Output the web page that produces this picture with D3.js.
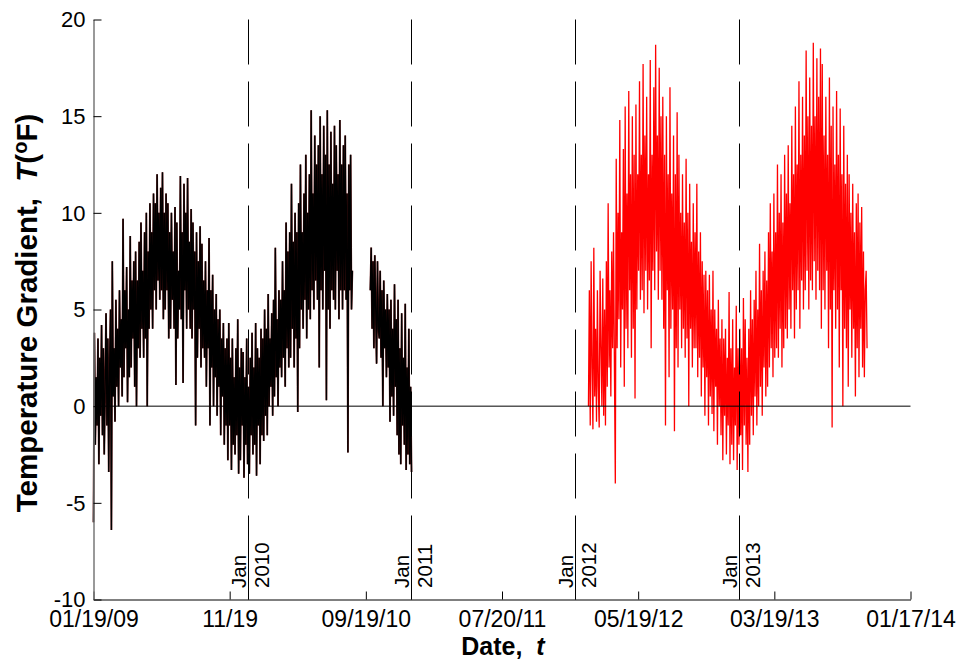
<!DOCTYPE html>
<html>
<head>
<meta charset="utf-8">
<script src="https://cdn.jsdelivr.net/npm/d3@7"></script>
<style>
  body { margin: 0; background: #fff; }
  svg text { font-family: "Liberation Sans", Arial, sans-serif; white-space: pre; }
</style>
</head>
<body>
<div id="vis"></div>
<script>
// sampling of the series (every 2 days from the start date)
var stepDays = 2;

// first logger, 2009 - summer 2010 (black)
var blackStart1 = "2009-01-19";
var blackValues1 = [
  -6, 3.8, -2, 1.5, -1, 3.5, -3, 2.5, -0.5, 4.2,
  -1.5, 3, -2.5, 1, 4.8, -1, 3.5, -3.4, 2, 5,
  -6.4, 7.5, 0.5, 3, -0.8, 5.5, 1, 4, 0, 6,
  2, 4.5, 0.5, 9.7, 1.5, 6, 3, 7.2, 0.2, 5,
  1.5, 8.8, 2, 6.5, 3.5, 7.5, 1, 8, 0, 6.5,
  3, 8.5, 2.5, 9.5, 4, 7, 2.5, 9, 3.5, 10,
  0, 8, 4, 10.5, 5, 9, 4, 11, 6, 10.5,
  5, 12, 6.5, 10, 5.5, 11.3, 6, 12.1, 4.5, 10,
  5, 11, 6, 10.5, 3.5, 9, 4, 10, 5.5, 8,
  4, 10.3, 1.1, 9.5, 3.5, 7, 5, 11.9, 4.5, 9,
  1.2, 11.5, 6, 10, 4, 11.8, 5, 8.5, 4, 10.2,
  3.5, 9.5, 5, 8, -1, 9, 2.5, 7.5, 4, 9.3,
  2, 8.4, 3, 6.5, 2.5, 7.5, 1, 6, 3, 8.7,
  -1, 6, 2, 6.8, 0, 5, 1.5, 5.8, -0.5, 4.5,
  1, 5, -1.5, 3.5, 0.5, 4.3, -2, 3, -1, 3.5,
  -2.8, 4.3, -1, 2.5, -3.3, 3.5, -2, 1.5, -2.5, 3,
  -1.5, 4.5, -3.5, 2, -2.8, 3, -1, 2.8, -3.7, 1.5,
  -2, 3.5, -3, 1, -3.5, 2.5, -1.5, 3.8, -2.5, 2,
  -2, 4.3, -3.6, 3, -1, 2.5, -3, 4, -1.5, 3.5,
  -1.8, 5, -0.5, 4, -1.5, 5.8, 0, 3.5, 1, 4.8,
  -0.5, 5.5, 0.5, 8.2, 1.5, 4.5, 0, 6, 2, 5.5,
  1.5, 7.5, 2.5, 6, 1, 9.5, 3, 8, 2, 9,
  2.5, 11.5, 4, 8.5, 2, 10, 3.5, 9, -0.3, 10.5,
  3, 12.5, 5, 9, 4, 11, 5.5, 13, 3.5, 10,
  5, 12, 4.5, 15.3, 6, 11, 5, 14, 6.5, 12.5,
  5.5, 13.5, 2, 15, 6, 12, 5, 14.5, 7, 13,
  0.3, 15.3, 5, 12.5, 4, 14.2, 6, 11.5, 5.5, 14.5,
  5, 13.5, 7, 12, 4.5, 14.8, 6, 12.5, 5, 13.5,
  6, 14, 5.5, 11, -2.4, 12.5, 6, 13, 5, 7
];

// first logger, fall 2010 (black)
var blackStart2 = "2010-09-29";
var blackValues2 = [
  6, 8.2, 4, 7.5, 3, 7.8, 5, 2.2, 7.5, 4,
  3.5, 7, 2.5, 6, 0, 6.5, 3, 5, 1.5, 5.8,
  2, 5, -0.8, 5.5, 0.5, 4, -0.5, 6.3, 1, 4.5,
  -1.5, 5.5, -2.5, 3, -3, 4.8, -1, 2.5, -2, 5.3,
  -3.3, 2, -2.5, 4, -3, 1, -3.4
];

// second logger, 2012 - 2013 (red)
var redStart = "2012-01-29";
var redValues = [
  0, 6, -1, 7.5, 2, -1.2, 8.2, 0.5, 4, -0.8,
  6, 1, -1.1, 7, 3, 0, 6.6, -0.5, 5, -1,
  7.5, 1, 10.5, 2, 6, 0.5, 8, 3, 9, 2,
  -4, 12.8, 3, 10, 4.5, 14.8, 2, 9, 5, 13.3,
  1, 15.5, 4, 11, 3, 16.3, 6, 12, 2.5, 15,
  4, 13, 0.4, 15.6, 5, 12, 7, 16.8, 5.5, 13,
  6, 17.7, 4.8, 14, 7, 16, 5, 12, 6.5, 17.9,
  3, 13, 7, 16.5, 6, 18.7, 8, 14, 5.5, 17.5,
  7, 15, 5.5, 16, 4, 13, -1, 15, 6, 12,
  1.5, 16.5, 4, 11, 5, 14, -1.3, 12, 3, 15.2,
  2, 13, 5, 10, 3, 12, 4, 9.5, 2.5, 12.8,
  3.5, 10, 0, 11.5, 4, 8.5, 2, 10.5, 3, 9,
  3, 11.5, 1.5, 8, 2.5, 9, 0.5, 7.5, 2, 6.8,
  -0.5, 7, 1.5, 6, -1, 6.8, 0.5, 5, -0.4, 7,
  -1.3, 5, 1, 4, -2, 5.5, 0, 3.5, -1.5, 4.5,
  -2.8, 3.5, -0.5, 4, -2.5, 2.5, -1, 5.9, -3, 3,
  -2, 4.5, -2.8, 2, -1, 5.2, -3.3, 3, -2, 4,
  -1.5, 3, -3.3, 5.6, -1, 4.5, -2, 2.5, -3.4, 4,
  -2, 6, -0.5, 4.5, -1.5, 5.5, 0.5, 7, -1, 5,
  0, 8.4, 1, 6, -0.5, 7, 2, 8, 0.5, 6.5,
  1, 9, 2, 10.5, 3, 8, 1.5, 11, 2.5, 9,
  3, 12.5, 2.5, 10, 4, 12, 2, 9.5, 3, 13,
  4, 11, 3.5, 13.5, 5, 10.5, 4, 14.5, 6, 12,
  3.5, 15.5, 5, 12.5, 6, 16.8, 4, 13, 6.5, 16,
  5, 14, 6, 18.4, 7, 15, 5, 17, 6.5, 14.5,
  6, 18.8, 7.5, 15, 5.5, 18, 7, 16, 6, 18.5,
  4, 17.7, 6, 14, 5, 16, 7, 13, 3, 17,
  5, 14.5, -1.1, 15.5, 6, 12.5, 4, 16.3, 5, 13,
  2, 15.4, 6, 12, 0, 14.5, 4, 11.5, 3, 13,
  1, 12, 5, 10, 2.5, 11.5, 4, 9, 0.5, 10.5,
  3, 11, 1.5, 9.5, 4, 10.3, 2, 8, 1.5, 6,
  7, 3
];

var xTickDates = ["2009-01-19", "2009-11-19", "2010-09-19", "2011-07-20", "2012-05-19", "2013-03-19", "2014-01-17"];
var xTickLabels = ["01/19/09", "11/19", "09/19/10", "07/20/11", "05/19/12", "03/19/13", "01/17/14"];
var yTicks = [-10, -5, 0, 5, 10, 15, 20];
var yearLines = ["2010", "2011", "2012", "2013"];

var parse = d3.utcParse("%Y-%m-%d");

function toPoints(start, values) {
  var t0 = parse(start);
  return values.map(function (v, i) {
    return { date: d3.utcDay.offset(t0, i * stepDays), v: v };
  });
}

var w = 961, h = 660;
var svg = d3.select("#vis").append("svg")
  .attr("width", w)
  .attr("height", h);

var x = d3.scaleUtc()
  .domain([parse(xTickDates[0]), parse(xTickDates[xTickDates.length - 1])])
  .range([93.5, 910.5]);
var y = d3.scaleLinear()
  .domain([-10, 20])
  .range([599.5, 19.5]);

var line = d3.line()
  .x(function (d) { return x(d.date); })
  .y(function (d) { return y(d.v); });

// data
svg.append("path")
  .datum(toPoints(redStart, redValues))
  .attr("d", line)
  .attr("fill", "none")
  .attr("stroke", "#ff0000")
  .attr("stroke-width", 1.3);

[blackValues1, blackValues2].forEach(function (vals, k) {
  var pts = toPoints(k == 0 ? blackStart1 : blackStart2, vals);
  svg.append("path")
    .datum(pts)
    .attr("d", line)
    .attr("fill", "none")
    .attr("stroke", "#6b1a1a")
    .attr("stroke-width", 1.8);
  svg.append("path")
    .datum(pts)
    .attr("d", line)
    .attr("fill", "none")
    .attr("stroke", "#000")
    .attr("stroke-width", 1.3);
});

// zero line
svg.append("line")
  .attr("x1", x.range()[0]).attr("x2", x.range()[1])
  .attr("y1", y(0)).attr("y2", y(0))
  .attr("stroke", "#000")
  .attr("stroke-width", 1);

// year boundaries
var yl = svg.append("g").selectAll("g")
  .data(yearLines)
  .enter().append("g")
  .attr("transform", function (d) { return "translate(" + Math.round(x(parse(d + "-01-01")) - 1) + ".5,0)"; });

yl.append("line")
  .attr("y1", y(20)).attr("y2", y(-10))
  .attr("stroke", "#000")
  .attr("stroke-width", 1)
  .attr("stroke-dasharray", "45,17");
yl.append("line")
  .attr("y1", 555).attr("y2", y(-10))
  .attr("stroke", "#000")
  .attr("stroke-width", 1);
yl.append("text")
  .attr("transform", "translate(-3,588) rotate(-90)")
  .attr("font-size", 20.5)
  .text("Jan");
yl.append("text")
  .attr("transform", "translate(20,588) rotate(-90)")
  .attr("font-size", 20.5)
  .text(function (d) { return d; });

// axes
var xAxis = d3.axisBottom(x)
  .tickValues(xTickDates.map(parse))
  .tickSize(0)
  .tickPadding(0)
  .tickFormat(function (d, i) { return xTickLabels[i]; });

var gx = svg.append("g")
  .attr("transform", "translate(0," + y(-10) + ")")
  .call(xAxis);
gx.select(".domain").attr("stroke", "#000");
gx.selectAll(".tick line").remove();
gx.selectAll(".tick").append("line")
  .attr("y1", 0).attr("y2", -8)
  .attr("stroke", "#000");
gx.selectAll(".tick text")
  .attr("font-size", 23)
  .attr("fill", "#000")
  .attr("dy", null)
  .attr("y", 27);

var yAxis = d3.axisLeft(y)
  .tickValues(yTicks)
  .tickSize(0)
  .tickPadding(8)
  .tickFormat(function (d) { return String(d); });

var gy = svg.append("g")
  .attr("transform", "translate(" + x.range()[0] + ",0)")
  .call(yAxis);
gy.select(".domain").attr("stroke", "#777").attr("stroke-width", 1.5);
gy.selectAll(".tick").append("line")
  .attr("x1", 0).attr("x2", 8)
  .attr("stroke", "#000");
gy.selectAll(".tick text")
  .attr("font-size", 22)
  .attr("fill", "#000")
  .attr("dy", "0.33em");

// axis titles
var xt = svg.append("text")
  .attr("x", 503)
  .attr("y", 655)
  .attr("text-anchor", "middle")
  .attr("font-size", 25)
  .attr("font-weight", "bold");
xt.append("tspan").text("Date,  ");
xt.append("tspan").attr("font-style", "italic").text("t");

var yt = svg.append("text")
  .attr("transform", "translate(37,313) rotate(-90)")
  .attr("text-anchor", "middle")
  .attr("font-size", 29.5)
  .attr("font-weight", "bold");
yt.append("tspan").text("Temperature Gradient,  ");
yt.append("tspan").attr("font-style", "italic").text("T");
yt.append("tspan").text("(");
yt.append("tspan").attr("font-size", 20).attr("dy", -10).text("o");
yt.append("tspan").attr("dy", 10).text("F)");
</script>
</body>
</html>
